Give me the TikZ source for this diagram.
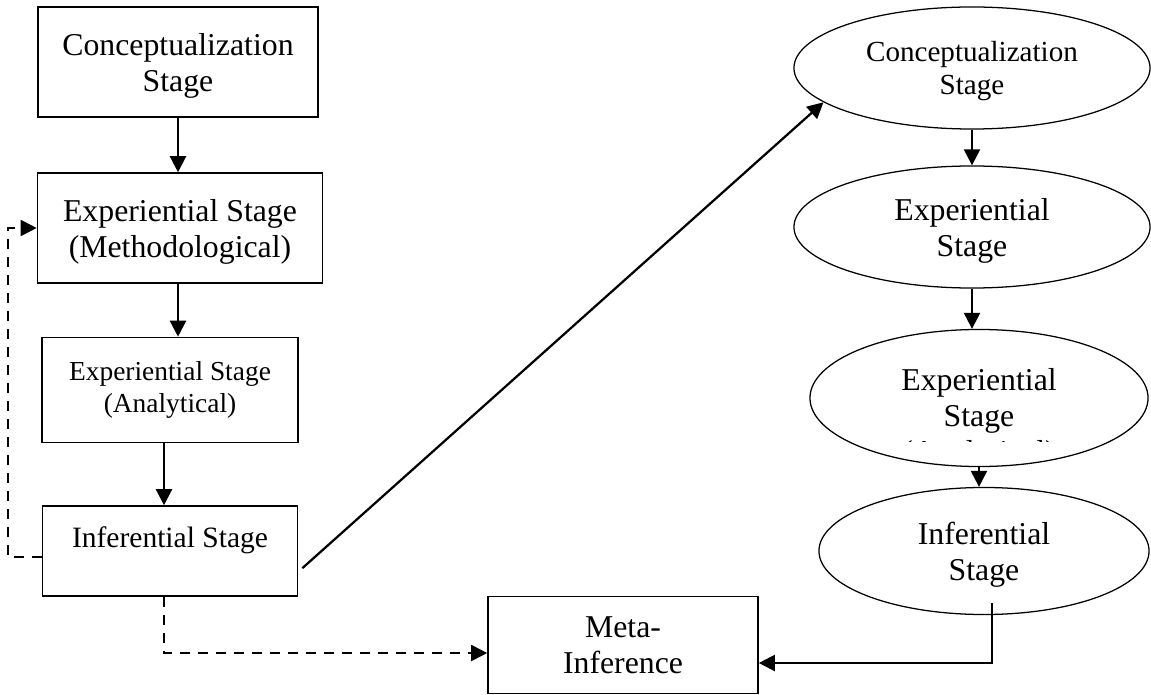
\documentclass[tikz,border=0pt]{standalone}
\usepackage{fontspec}
\setmainfont{Liberation Serif}
\usetikzlibrary{positioning,arrows.meta,shapes.geometric}

\begin{document}
\begin{tikzpicture}[x=0.025cm, y=-0.025cm,
    every node/.style={font=\fontsize{22.6}{25.6}\selectfont, align=center},
    box/.style={draw, line width=1.1pt, inner sep=0pt, text depth=0pt},
    oval/.style={draw, ellipse, line width=0.9pt, inner sep=0pt, text depth=0pt},
    flow/.style={-{Triangle[length=0.4cm,width=0.4cm]}, line width=1.6pt},
    back/.style={flow, dash pattern=on 0.25cm off 0.2cm, line width=1.3pt}]
    \useasboundingbox (0,0) rectangle (1151,695);
    % sequential design
    \node[box, minimum width=7cm, minimum height=2.75cm] (concept) at (178,62) {Conceptualization\\Stage};
    \node[box, minimum width=7.125cm, minimum height=2.75cm] (method) at (180,228) {Experiential Stage\\(Methodological)};
    \node[box, minimum width=6.4cm, minimum height=2.625cm, text depth=, font=\fontsize{19.5}{22.5}\selectfont] (analyt) at (170,390) {Experiential Stage\\(Analytical)};
    \node[box, minimum width=6.375cm, minimum height=2.25cm, text depth=, font=\fontsize{21}{25.6}\selectfont] (infer) at (170,551) {Inferential Stage\\[-0.45cm]\strut};
    \node[box, minimum width=6.75cm, minimum height=2.425cm] (meta) at (623,645) {Meta-\\Inference};
    % second strand
    \node[oval, minimum width=8.9cm, minimum height=3.05cm, font=\fontsize{20.7}{24}\selectfont] (oconcept) at (972,68) {Conceptualization\\Stage};
    \node[oval, minimum width=8.9cm, minimum height=3.05cm] (oexper) at (972,227) {Experiential\\Stage};
    \node[oval, minimum width=8.45cm, minimum height=3.425cm] (oanalyt) at (979,398) {};
    \begin{scope}
      \clip (810,330) rectangle (1148,441);
      \node (oanalyttxt) at (979,419) {Experiential\\Stage\\(Analytical)};
    \end{scope}
    \node[oval, minimum width=8.25cm, minimum height=3.175cm] (oinfer) at (984,551) {Inferential\\Stage};
    % connectors
    \foreach \s/\t/\dx in {concept/method/0cm, method/analyt/-0.05cm, analyt/infer/-0.15cm}
      \draw[flow] ([xshift=\dx]\s.south) -- ([xshift=\dx]\s.south |- \t.north);
    \foreach \s/\t in {oconcept/oexper, oexper/oanalyt, oanalyt/oinfer}
      \draw[flow] (\s.south) -- (\s.south |- \t.north);
    \draw[flow] ([xshift=0.1cm, yshift=-0.43cm]infer.east) -- (oconcept.193);
    \draw[flow] ([xshift=0.2cm, yshift=0.3cm]oinfer.south) |- ([yshift=-0.45cm]meta.east);
    \draw[back] ([yshift=-0.15cm]infer.west) -- ++(-34,0) |- (method.west);
    \draw[back] ([xshift=-0.15cm]infer.south) |- ([yshift=-0.2cm]meta.west);
\end{tikzpicture}
\end{document}
